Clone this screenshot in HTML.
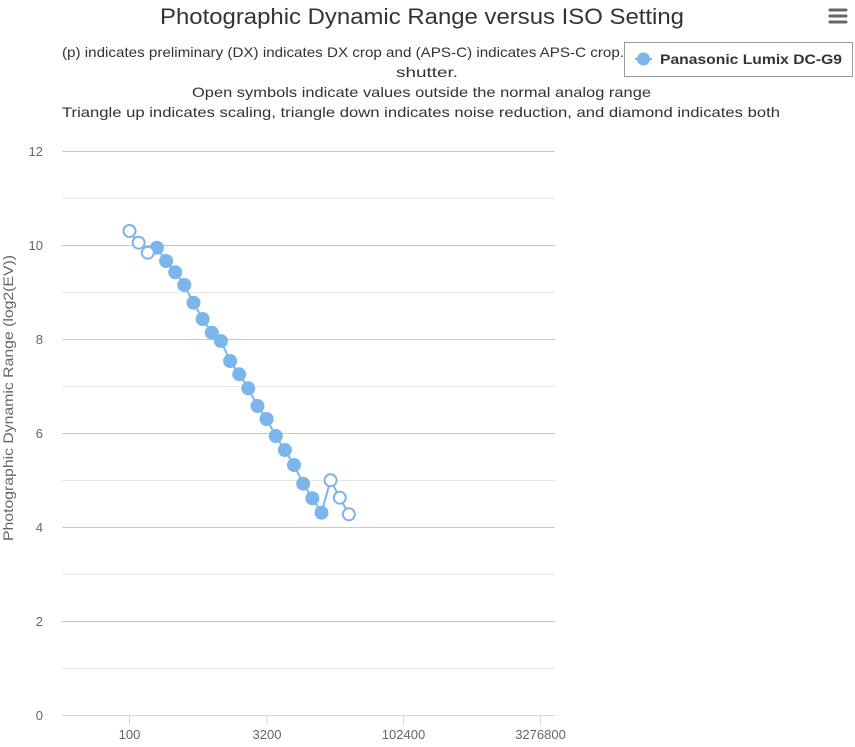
<!DOCTYPE html>
<html><head><meta charset="utf-8"><style>
html,body{margin:0;padding:0;background:#fff;}
svg{display:block;font-family:"Liberation Sans",sans-serif;}
</style></head><body>
<svg width="855" height="747" viewBox="0 0 855 747" xmlns="http://www.w3.org/2000/svg">
<rect width="855" height="747" fill="#fff"/>
<!-- title -->
<text x="422" y="24" text-anchor="middle" font-size="22" fill="#333" textLength="524" lengthAdjust="spacingAndGlyphs">Photographic Dynamic Range versus ISO Setting</text>
<!-- subtitle -->
<g font-size="14" fill="#333">
<text x="62" y="57" textLength="730" lengthAdjust="spacingAndGlyphs">(p) indicates preliminary (DX) indicates DX crop and (APS-C) indicates APS-C crop. (ES) indicates electronic</text>
<text x="427" y="77" text-anchor="middle" textLength="62" lengthAdjust="spacingAndGlyphs">shutter.</text>
<text x="421.5" y="97" text-anchor="middle" textLength="459" lengthAdjust="spacingAndGlyphs">Open symbols indicate values outside the normal analog range</text>
<text x="421" y="117" text-anchor="middle" textLength="718" lengthAdjust="spacingAndGlyphs">Triangle up indicates scaling, triangle down indicates noise reduction, and diamond indicates both</text>
</g>
<!-- hamburger -->
<g stroke="#666" stroke-width="3" stroke-linecap="round">
<line x1="830" y1="10" x2="846" y2="10"/>
<line x1="830" y1="16" x2="846" y2="16"/>
<line x1="830" y1="22" x2="846" y2="22"/>
</g>
<!-- legend -->
<rect x="624.5" y="42.5" width="228" height="34" fill="#fff" stroke="#999" stroke-width="1"/>
<line x1="635" y1="59" x2="652" y2="59" stroke="#7cb5ec" stroke-width="2"/>
<circle cx="643.5" cy="59" r="6.5" fill="#7cb5ec"/>
<text x="660" y="64" font-size="14" font-weight="bold" fill="#333" textLength="182" lengthAdjust="spacingAndGlyphs">Panasonic Lumix DC-G9</text>
<!-- grid -->
<g stroke="#e6e6e6" stroke-width="1">
<line x1="62" y1="198.5" x2="555" y2="198.5"/>
<line x1="62" y1="292.5" x2="555" y2="292.5"/>
<line x1="62" y1="386.5" x2="555" y2="386.5"/>
<line x1="62" y1="480.5" x2="555" y2="480.5"/>
<line x1="62" y1="574.5" x2="555" y2="574.5"/>
<line x1="62" y1="668.5" x2="555" y2="668.5"/>
</g>
<g stroke="#c8c8c8" stroke-width="1">
<line x1="62" y1="151.5" x2="555" y2="151.5"/>
<line x1="62" y1="245.5" x2="555" y2="245.5"/>
<line x1="62" y1="339.5" x2="555" y2="339.5"/>
<line x1="62" y1="433.5" x2="555" y2="433.5"/>
<line x1="62" y1="527.5" x2="555" y2="527.5"/>
<line x1="62" y1="621.5" x2="555" y2="621.5"/>
</g>
<!-- x axis -->
<g stroke="#ccd6eb" stroke-width="1">
<line x1="62" y1="715.5" x2="555" y2="715.5"/>
<line x1="129.5" y1="715" x2="129.5" y2="725"/>
<line x1="267" y1="715" x2="267" y2="725"/>
<line x1="403.5" y1="715" x2="403.5" y2="725"/>
<line x1="540.5" y1="715" x2="540.5" y2="725"/>
</g>
<g font-size="13" fill="#666" text-anchor="middle">
<text x="129.5" y="739">100</text>
<text x="267" y="739">3200</text>
<text x="403.5" y="739">102400</text>
<text x="540.5" y="739">3276800</text>
</g>
<!-- y labels -->
<g font-size="13" fill="#666" text-anchor="end">
<text x="43" y="156">12</text>
<text x="43" y="250">10</text>
<text x="43" y="344">8</text>
<text x="43" y="438">6</text>
<text x="43" y="532">4</text>
<text x="43" y="626">2</text>
<text x="43" y="720">0</text>
</g>
<text transform="translate(13,398) rotate(-90)" text-anchor="middle" font-size="14" fill="#666" textLength="286" lengthAdjust="spacingAndGlyphs">Photographic Dynamic Range (log2(EV))</text>
<!-- series -->
<polyline fill="none" stroke="#7cb5ec" stroke-width="2" stroke-linejoin="round" points="129.5,231 138.6,242.7 147.8,252.7 156.9,247.7 166.1,261 175.2,272.3 184.3,285 193.5,302.7 202.6,319 211.8,332.7 220.9,341 230.1,361 239.2,374.3 248.3,388.3 257.5,406 266.6,419 275.8,436 284.9,450 294,465 303.2,483.7 312.3,498.3 321.5,512.7 330.6,480.3 339.8,497.7 348.9,514.3"/>
<g fill="#7cb5ec">
<circle cx="156.9" cy="247.7" r="7"/>
<circle cx="166.1" cy="261" r="7"/>
<circle cx="175.2" cy="272.3" r="7"/>
<circle cx="184.3" cy="285" r="7"/>
<circle cx="193.5" cy="302.7" r="7"/>
<circle cx="202.6" cy="319" r="7"/>
<circle cx="211.8" cy="332.7" r="7"/>
<circle cx="220.9" cy="341" r="7"/>
<circle cx="230.1" cy="361" r="7"/>
<circle cx="239.2" cy="374.3" r="7"/>
<circle cx="248.3" cy="388.3" r="7"/>
<circle cx="257.5" cy="406" r="7"/>
<circle cx="266.6" cy="419" r="7"/>
<circle cx="275.8" cy="436" r="7"/>
<circle cx="284.9" cy="450" r="7"/>
<circle cx="294" cy="465" r="7"/>
<circle cx="303.2" cy="483.7" r="7"/>
<circle cx="312.3" cy="498.3" r="7"/>
<circle cx="321.5" cy="512.7" r="7"/>
</g>
<g fill="#fff" stroke="#7cb5ec" stroke-width="2">
<circle cx="129.5" cy="231" r="6"/>
<circle cx="138.6" cy="242.7" r="6"/>
<circle cx="147.8" cy="252.7" r="6"/>
<circle cx="330.6" cy="480.3" r="6"/>
<circle cx="339.8" cy="497.7" r="6"/>
<circle cx="348.9" cy="514.3" r="6"/>
</g>
</svg>
</body></html>
